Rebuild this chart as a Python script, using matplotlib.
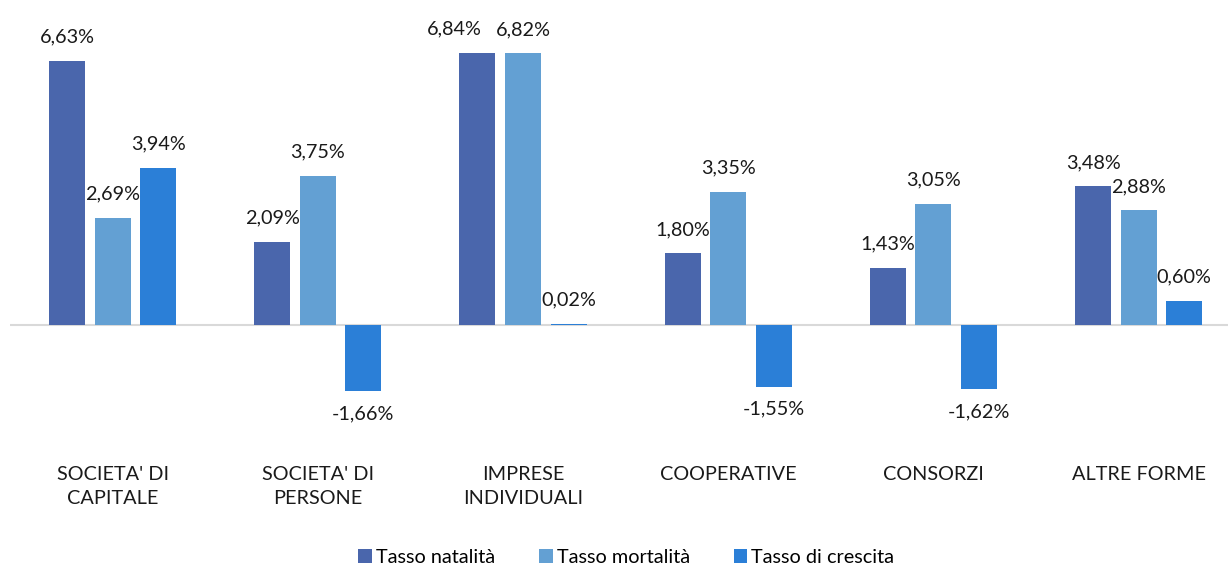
import numpy as np
import matplotlib.pyplot as plt

categories = ["SOCIETA' DI\nCAPITALE", "SOCIETA' DI\nPERSONE", "IMPRESE\nINDIVIDUALI",
              "COOPERATIVE", "CONSORZI", "ALTRE FORME"]
natalita = [6.63, 2.09, 6.84, 1.80, 1.43, 3.48]
mortalita = [2.69, 3.75, 6.82, 3.35, 3.05, 2.88]
crescita = [3.94, -1.66, 0.02, -1.55, -1.62, 0.60]

series = [("Tasso natalità", natalita, "#4a66ac"),
          ("Tasso mortalità", mortalita, "#63a0d3"),
          ("Tasso di crescita", crescita, "#2b7fd7")]

plt.rcParams['font.family'] = ['Lato', 'DejaVu Sans']

fig = plt.figure(figsize=(12.28, 5.65), dpi=100)
ax = fig.add_axes([10 / 1228, 125 / 565, 1218 / 1228, 420 / 565])

x = np.arange(len(categories))
width = 0.175
step = 0.222
fs = 14.3

# label nudged sideways like Excel does to avoid a collision
nudge = {(0, 2): -17}

for i, (name, vals, color) in enumerate(series):
    pos = x + (i - 1) * step
    ax.bar(pos, vals, width, color=color, label=name, zorder=2)
    for j, (p, v) in enumerate(zip(pos, vals)):
        txt = f"{v:.2f}%".replace('.', ',')
        dx = nudge.get((i, j), 0)
        if v >= 0:
            ax.annotate(txt, (p, v), xytext=(dx, 11), textcoords='offset points',
                        ha='center', va='bottom', fontsize=fs, color='#1a1a1a')
        else:
            ax.annotate(txt, (p, v), xytext=(dx, -10), textcoords='offset points',
                        ha='center', va='top', fontsize=fs, color='#1a1a1a')

ax.axhline(0, color='#d9d9d9', lw=1.5, zorder=1)
ax.set_xlim(-0.5, -0.5 + 1218 / 205.2)
ax.set_ylim(-2.89, 7.66)
ax.set_yticks([])
ax.set_xticks(x)
ax.set_xticklabels(categories, fontsize=fs, color='#1a1a1a', linespacing=1.5)
ax.tick_params(axis='x', length=0, pad=19)
for s in ax.spines.values():
    s.set_visible(False)

fig.legend(loc='lower center', bbox_to_anchor=(0.51, -0.033), ncol=3, frameon=False,
           fontsize=fs, handlelength=0.7, handleheight=0.7, handletextpad=0.2,
           columnspacing=2.2)

fig.savefig("out.png", dpi=100)
